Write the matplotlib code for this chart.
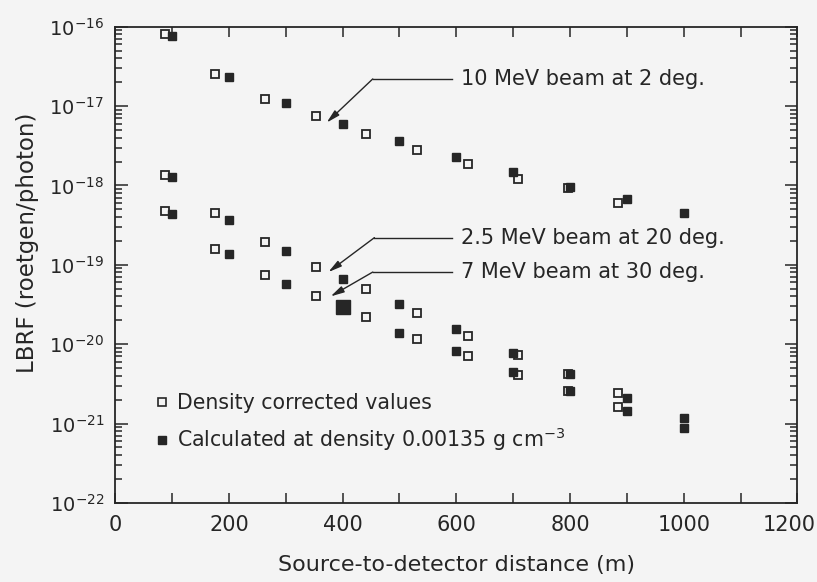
import numpy as np
import matplotlib
matplotlib.use("Agg")
import matplotlib.pyplot as plt
from matplotlib.ticker import FixedLocator, LogLocator, MultipleLocator, NullFormatter
from matplotlib.transforms import ScaledTranslation
from matplotlib.lines import Line2D

# calculated points sit at the nominal distances (m)
dist_calc = [100, 200, 300, 400, 500, 600, 700, 800, 900, 1000]
# density corrected points are shifted to shorter distances
dist_corr = [87, 175, 264, 353, 441, 531, 620, 708, 797, 884]

# 10 MeV beam at 2 deg
mev10_calc = [7.7e-17, 2.34e-17, 1.1e-17, 6.0e-18, 3.6e-18, 2.3e-18, 1.48e-18, 9.5e-19, 6.8e-19, 4.5e-19]
mev10_corr = [8.2e-17, 2.55e-17, 1.23e-17, 7.4e-18, 4.4e-18, 2.78e-18, 1.86e-18, 1.2e-18, 9.3e-19, 6.0e-19]

# 2.5 MeV beam at 20 deg
mev25_calc = [1.26e-18, 3.7e-19, 1.5e-19, 6.6e-20, 3.2e-20, 1.55e-20, 7.7e-21, 4.2e-21, 2.1e-21, 1.17e-21]
mev25_corr = [1.35e-18, 4.5e-19, 1.94e-19, 9.3e-20, 5.0e-20, 2.45e-20, 1.26e-20, 7.3e-21, 4.2e-21, 2.4e-21]

# 7 MeV beam at 30 deg
mev7_calc = [4.4e-19, 1.38e-19, 5.7e-20, 2.9e-20, 1.4e-20, 8.1e-21, 4.5e-21, 2.6e-21, 1.45e-21, 8.7e-22]
mev7_corr = [4.7e-19, 1.6e-19, 7.4e-20, 4.0e-20, 2.2e-20, 1.17e-20, 7.1e-21, 4.1e-21, 2.6e-21, 1.62e-21]

labels = ["10 MeV beam at 2 deg.", "2.5 MeV beam at 20 deg.", "7 MeV beam at 30 deg."]
decades = [1e-22, 1e-21, 1e-20, 1e-19, 1e-18, 1e-17, 1e-16]

ink = "#262626"
bg = "#f4f4f4"

plt.rcParams["font.family"] = "DejaVu Sans"
plt.rcParams["mathtext.fontset"] = "dejavusans"
plt.rcParams["text.color"] = ink
plt.rcParams["axes.labelcolor"] = ink
plt.rcParams["xtick.color"] = ink
plt.rcParams["ytick.color"] = ink

fig = plt.figure(figsize=(8.17, 5.82), dpi=100, facecolor=bg)
ax = fig.add_axes([0.141, 0.136, 0.835, 0.818], facecolor=bg)

ms = 6.3
for corr in [mev10_corr, mev25_corr, mev7_corr]:
    ax.plot(dist_corr, corr, ls="none", marker="s", ms=ms, mfc="none", mec=ink, mew=1.3)
for calc in [mev10_calc, mev25_calc, mev7_calc]:
    ax.plot(dist_calc, calc, ls="none", marker="s", ms=ms, mfc=ink, mec=ink, mew=1.0)
# the 400 m point of the 7 MeV series is drawn bigger in the original
ax.plot(dist_calc[3], mev7_calc[3], ls="none", marker="s", ms=9.5, mfc=ink, mec=ink)

ax.set_yscale("log")
ax.set_xlim(0, 1200)
ax.set_ylim(decades[0], decades[-1])

ax.xaxis.set_major_locator(MultipleLocator(200))
ax.xaxis.set_minor_locator(MultipleLocator(100))
ax.yaxis.set_major_locator(FixedLocator(decades))
ax.yaxis.set_minor_locator(LogLocator(base=10, subs=np.arange(2, 10), numticks=20))
ax.yaxis.set_minor_formatter(NullFormatter())

ax.tick_params(which="both", direction="in", top=True, right=True, width=1.1)
ax.tick_params(which="major", axis="x", length=7)
ax.tick_params(which="minor", axis="x", length=7)
ax.tick_params(which="major", axis="y", length=9)
ax.tick_params(which="minor", axis="y", length=5)
ax.tick_params(axis="x", labelsize=15, pad=9)
ax.tick_params(axis="y", labelsize=14, pad=8)
for s in ax.spines.values():
    s.set_linewidth(1.3)
    s.set_color(ink)

ax.set_xlabel("Source-to-detector distance (m)", fontsize=16, labelpad=14)
ax.set_ylabel("LBRF (roetgen/photon)", fontsize=16.5)
ax.yaxis.set_label_coords(-0.112, 0.546)

# keep the 1200 label inside the picture
fig.canvas.draw()
for t in ax.get_xticklabels():
    if t.get_text() == "1200":
        t.set_transform(t.get_transform() + ScaledTranslation(-6 / 72, 0, fig.dpi_scale_trans))

# annotation placement: arrow tip, elbow, end of the leader line
leaders = [
    ((372, 6.2e-18), (453, 2.2e-17), 592),
    ((375, 8.1e-20), (456, 2.2e-19), 592),
    ((379, 4.0e-20), (453, 8.1e-20), 592),
]
for (tip, elbow, end), lab in zip(leaders, labels):
    ax.plot([elbow[0], end], [elbow[1], elbow[1]], color=ink, lw=1.0)
    ax.annotate("", xy=tip, xytext=elbow,
                arrowprops=dict(arrowstyle="-|>,head_length=0.8,head_width=0.2",
                                color=ink, lw=1.0, shrinkA=0, shrinkB=0))
    ax.text(end + 17, elbow[1], lab, fontsize=15, va="center", ha="left")

handles = [
    Line2D([], [], ls="none", marker="s", ms=5.5, mfc="none", mec=ink, mew=1.2),
    Line2D([], [], ls="none", marker="s", ms=5.5, mfc=ink, mec=ink),
]
ax.legend(handles, ["Density corrected values", "Calculated at density 0.00135 g cm$^{-3}$"],
          loc="lower left", bbox_to_anchor=(0.048, 0.088), frameon=False, fontsize=14.8,
          handlelength=0.6, handletextpad=0.4, labelspacing=0.6, borderaxespad=0)

fig.savefig("out.png", dpi=100, facecolor=bg)
